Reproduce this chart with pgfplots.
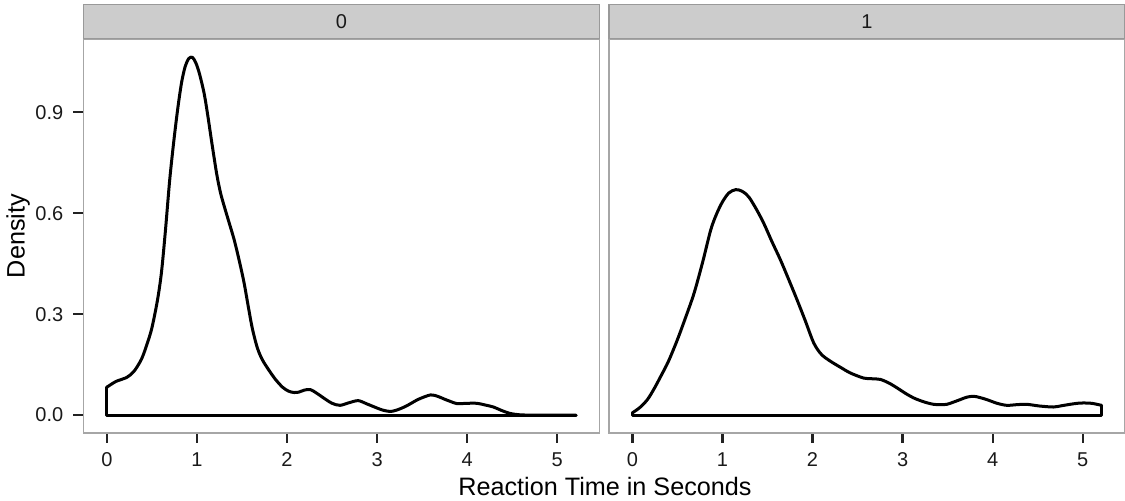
\documentclass[border=0pt]{standalone}
\usepackage{fontspec}
\setmainfont{Liberation Sans}
\usepackage{pgfplots}
\pgfplotsset{compat=1.18}
\definecolor{stripfill}{HTML}{CCCCCC}
\definecolor{stripline}{HTML}{999999}
\definecolor{panelline}{HTML}{A6A6A6}
\definecolor{tickcol}{HTML}{222222}

\pgfplotsset{
 facet/.style={
  scale only axis, width=258pt, height=196.75pt,
  xmin=-0.2605, xmax=5.4705, ymin=-0.0532, ymax=1.1162,
  axis line style={draw=panelline, line width=0.8pt},
  tick align=outside, major tick length=5pt,
  tick style={draw=tickcol, line width=1.1pt},
  xtick={0,1,2,3,4,5}, xtick pos=left, ytick pos=left,
  ticklabel style={font=\fontsize{10}{12}\selectfont, text=black!90},
  xticklabel shift=1.1pt, yticklabel shift=1.6pt,
  /pgf/number format/assume math mode=true,
  every axis title shift=0pt,
  title style={at={(0.5,1)}, anchor=south, fill=stripfill, draw=stripline, line width=0.8pt, minimum width=258pt, minimum height=17pt, inner sep=0pt, font=\fontsize{10}{12}\selectfont, text=black!90, yshift=0pt},
  every axis plot/.append style={black, line width=1.5pt, line join=round, line cap=round},
 }
}

\begin{document}
\begin{tikzpicture}
\useasboundingbox (0,0) rectangle (562.5pt,250.5pt);
\begin{axis}[facet, at={(41.75pt,34pt)}, anchor=south west, title={0},
  ytick={0,0.3,0.6,0.9}, yticklabels={0.0,0.3,0.6,0.9}]
\addplot[smooth, tension=0.5] coordinates {
(0,0.083) (0.1,0.100) (0.22,0.112) (0.3,0.130) (0.385,0.167) (0.45,0.215) (0.5,0.26) (0.56,0.34) (0.605,0.423) (0.65,0.55) (0.697,0.699) (0.745,0.82) (0.789,0.916) (0.83,0.99) (0.87,1.037) (0.91,1.060) (0.95,1.063) (0.99,1.045) (1.03,1.012) (1.08,0.955) (1.12,0.89) (1.17,0.80) (1.22,0.715) (1.26,0.662) (1.30,0.623) (1.35,0.578) (1.413,0.521) (1.47,0.458) (1.523,0.393) (1.57,0.322) (1.615,0.257) (1.67,0.200) (1.725,0.165) (1.8,0.133) (1.872,0.106) (1.95,0.083) (2.018,0.071) (2.08,0.067) (2.128,0.068) (2.19,0.074) (2.257,0.076) (2.33,0.065) (2.422,0.048) (2.5,0.035) (2.587,0.029) (2.68,0.036) (2.789,0.043) (2.88,0.034) (2.972,0.024) (3.06,0.015) (3.156,0.011) (3.25,0.018) (3.339,0.029) (3.46,0.047) (3.596,0.060) (3.68,0.055) (3.743,0.048) (3.82,0.04) (3.890,0.034) (4.0,0.035) (4.110,0.035) (4.2,0.03) (4.293,0.024) (4.38,0.014) (4.477,0.005) (4.58,0.001) (4.7,0) (4.9,0) (5.21,0)
};
\addplot[sharp plot] coordinates {(0,0.083) (0,0) (5.21,0)};
\end{axis}
\begin{axis}[facet, at={(304.5pt,34pt)}, anchor=south west, title={1}, ytick=\empty]
\addplot[smooth, tension=0.5] coordinates {
(0,0.007) (0.08,0.022) (0.166,0.046) (0.24,0.078) (0.314,0.115) (0.4,0.16) (0.499,0.224) (0.59,0.29) (0.684,0.362) (0.78,0.455) (0.868,0.549) (0.93,0.595) (0.998,0.633) (1.07,0.66) (1.146,0.670) (1.22,0.665) (1.293,0.648) (1.38,0.61) (1.460,0.569) (1.55,0.515) (1.644,0.461) (1.74,0.40) (1.829,0.342) (1.92,0.28) (2.014,0.214) (2.1,0.18) (2.199,0.160) (2.31,0.142) (2.421,0.125) (2.568,0.110) (2.66,0.108) (2.753,0.106) (2.85,0.095) (2.938,0.081) (3.03,0.065) (3.123,0.051) (3.24,0.039) (3.344,0.032) (3.42,0.031) (3.492,0.032) (3.57,0.039) (3.640,0.046) (3.71,0.053) (3.788,0.056) (3.86,0.052) (3.936,0.046) (4.05,0.035) (4.157,0.029) (4.27,0.031) (4.379,0.032) (4.52,0.027) (4.675,0.024) (4.77,0.028) (4.860,0.032) (4.94,0.035) (5.007,0.036) (5.1,0.035) (5.21,0.029)
};
\addplot[sharp plot] coordinates {(5.21,0.029) (5.21,0) (0,0) (0,0.007)};
\end{axis}
\node[rotate=90, font=\fontsize{12.6}{14}\selectfont] at (9pt,132.5pt) {Density};
\node[anchor=base, font=\fontsize{12.6}{14}\selectfont] at (302.5pt,2.5pt) {Reaction Time in Seconds};
\end{tikzpicture}
\end{document}
